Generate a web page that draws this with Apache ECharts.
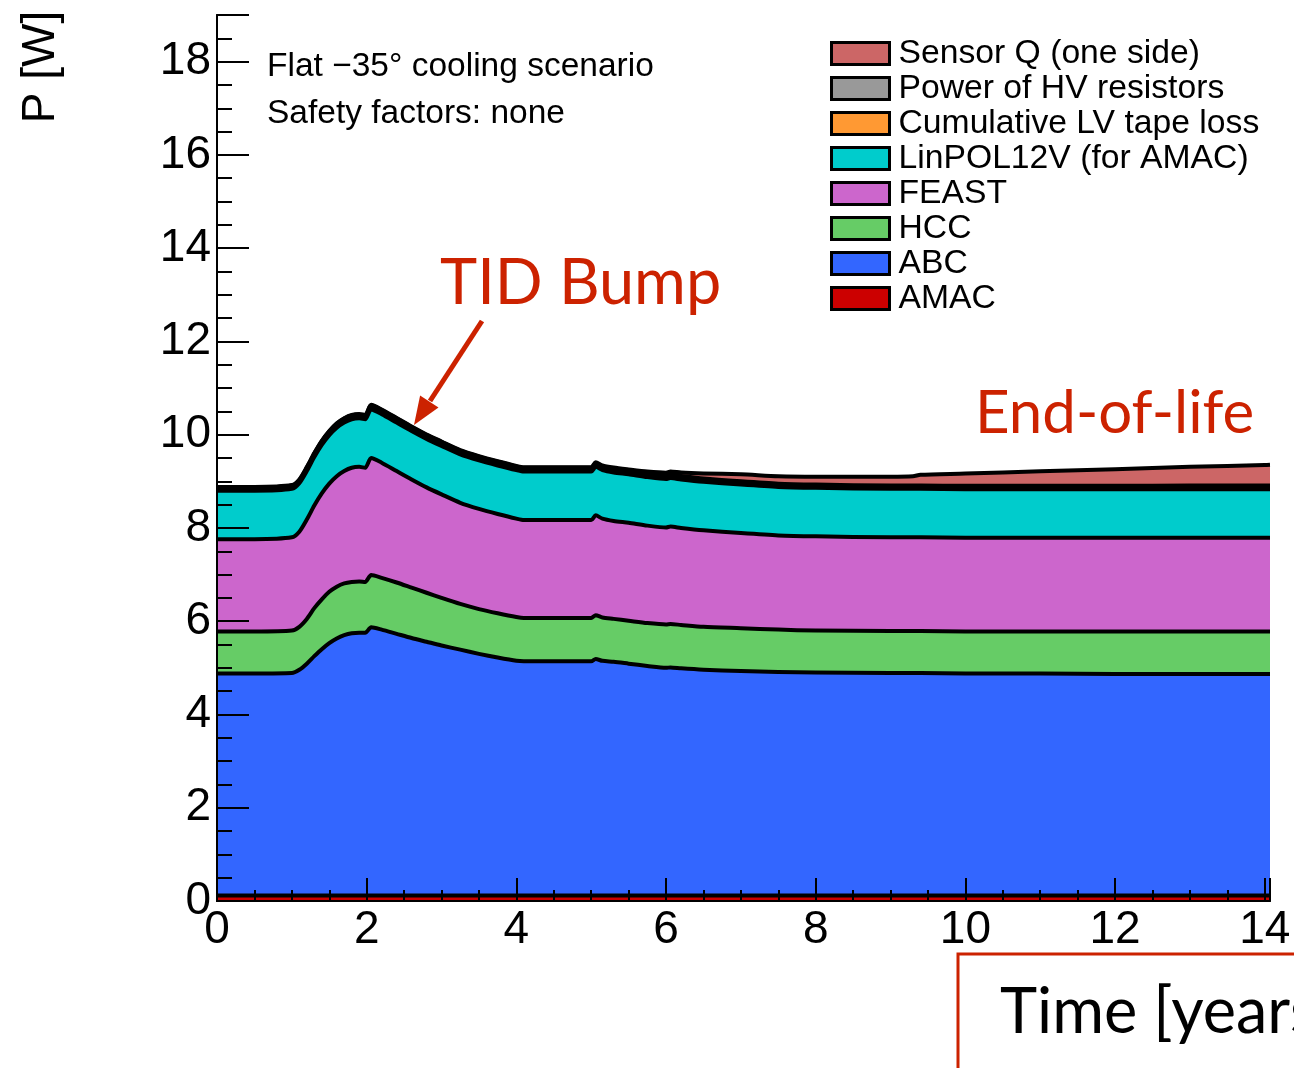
<!DOCTYPE html>
<html>
<head>
<meta charset="utf-8">
<script src="https://cdn.jsdelivr.net/npm/echarts@6/dist/echarts.min.js"></script>
<style>
html,body{margin:0;padding:0;background:#fff;}
#chart{width:1294px;height:1068px;}
</style>
</head>
<body>
<div id="chart"></div>
<script>
// ---- data ----
var times = [0, 0.5, 1.0, 1.1, 1.2, 1.3, 1.4, 1.5, 1.6, 1.7, 1.8, 1.9, 1.98, 2.06, 2.2, 2.4, 2.6, 2.8, 3.0, 3.25, 3.5, 3.75, 4.0, 4.1, 4.5, 5.0, 5.06, 5.15, 5.3, 5.5, 5.75, 6.0, 6.06, 6.2, 6.5, 7.0, 7.5, 8.0, 9.0, 9.3, 9.4, 10, 11, 12, 13, 14, 14.07];
var amac = [0.12,0.12,0.12,0.12,0.12,0.12,0.12,0.12,0.12,0.12,0.12,0.12,0.12,0.12,0.12,0.12,0.12,0.12,0.12,0.12,0.12,0.12,0.12,0.12,0.12,0.12,0.12,0.12,0.12,0.12,0.12,0.12,0.12,0.12,0.12,0.12,0.12,0.12,0.12,0.12,0.12,0.12,0.12,0.12,0.12,0.12,0.12];
var abc = [4.76,4.76,4.77,4.84,4.97,5.13,5.28,5.41,5.51,5.58,5.62,5.63,5.63,5.75,5.70,5.61,5.52,5.44,5.36,5.27,5.18,5.10,5.03,5.02,5.02,5.02,5.07,5.03,5.01,4.97,4.92,4.88,4.89,4.87,4.84,4.81,4.79,4.78,4.77,4.77,4.77,4.76,4.76,4.75,4.75,4.75,4.75];
var hcc = [0.90,0.90,0.91,0.92,0.96,1.03,1.07,1.10,1.11,1.11,1.10,1.10,1.09,1.12,1.11,1.10,1.08,1.05,1.02,0.98,0.96,0.95,0.94,0.93,0.93,0.93,0.94,0.93,0.92,0.92,0.92,0.93,0.93,0.93,0.92,0.92,0.91,0.90,0.90,0.90,0.90,0.90,0.90,0.91,0.91,0.91,0.91];
var feast = [1.98,1.98,2.00,2.04,2.13,2.20,2.27,2.32,2.37,2.41,2.45,2.46,2.45,2.51,2.47,2.39,2.32,2.26,2.22,2.17,2.15,2.13,2.11,2.10,2.10,2.10,2.14,2.12,2.10,2.10,2.09,2.08,2.09,2.08,2.07,2.04,2.02,2.02,2.01,2.01,2.01,2.01,2.01,2.01,2.01,2.01,2.01];
var linpol = [1.04,1.04,1.04,1.04,1.04,1.04,1.04,1.04,1.04,1.04,1.04,1.04,1.04,1.04,1.04,1.04,1.04,1.04,1.04,1.04,1.04,1.04,1.04,1.04,1.04,1.04,1.04,1.04,1.04,1.04,1.04,1.04,1.04,1.04,1.04,1.04,1.04,1.04,1.04,1.04,1.04,1.04,1.04,1.04,1.04,1.04,1.04];
var tapeLoss = [0.03,0.03,0.03,0.03,0.035,0.035,0.04,0.04,0.045,0.045,0.045,0.045,0.045,0.05,0.05,0.05,0.045,0.045,0.045,0.04,0.04,0.04,0.04,0.04,0.04,0.04,0.04,0.04,0.04,0.035,0.035,0.035,0.035,0.035,0.03,0.03,0.03,0.03,0.03,0.03,0.03,0.03,0.03,0.03,0.03,0.03,0.03];
var hvRes = [0.04,0.04,0.04,0.04,0.04,0.04,0.04,0.04,0.04,0.04,0.04,0.04,0.04,0.04,0.04,0.04,0.04,0.04,0.04,0.04,0.04,0.04,0.04,0.04,0.04,0.04,0.04,0.04,0.04,0.04,0.04,0.04,0.04,0.04,0.04,0.04,0.04,0.04,0.04,0.04,0.04,0.045,0.045,0.045,0.05,0.05,0.05];
var sensorQ = [0.01,0.01,0.01,0.01,0.01,0.01,0.01,0.01,0.01,0.01,0.01,0.01,0.01,0.01,0.01,0.01,0.01,0.01,0.01,0.01,0.01,0.01,0.01,0.01,0.01,0.015,0.02,0.02,0.025,0.03,0.045,0.06,0.065,0.075,0.11,0.15,0.16,0.17,0.19,0.20,0.23,0.26,0.31,0.355,0.40,0.44,0.445];

var seriesNames = ['AMAC','ABC','HCC','FEAST','LinPOL12V (for AMAC)','Cumulative LV tape loss','Power of HV resistors','Sensor Q (one side)'];
var seriesValues = [amac, abc, hcc, feast, linpol, tapeLoss, hvRes, sensorQ];
var seriesColors = ['#cc0000','#3366ff','#66cc66','#cc66cc','#00cccc','#ff9933','#999999','#cc6666'];
var xTickLabels = ['0','2','4','6','8','10','12','14'];
var yTickLabels = ['0','2','4','6','8','10','12','14','16','18'];

var FONT = '"Liberation Sans", Arial, Helvetica, sans-serif';
var TEXFONT = 'Lato, "Open Sans", sans-serif';
var RED = '#cc2200';
var SMOOTH = 0.25;

// rows are [value, time] so that the stacked dimension is the value (y) dimension
function rows(arr){ return times.map(function(t,i){ return [arr[i], t]; }); }

var series = [];
seriesValues.forEach(function(vals, i){
  series.push({
    name: seriesNames[i], type: 'line', stack: 'areas', data: rows(vals),
    encode: {x: 1, y: 0}, smooth: SMOOTH,
    symbol: 'none', showSymbol: false, z: 2, silent: true,
    lineStyle: {width: 0, color: seriesColors[i]},
    itemStyle: {color: seriesColors[i]},
    areaStyle: {color: seriesColors[i], opacity: 1},
    emphasis: {disabled: true}
  });
});
seriesValues.forEach(function(vals, i){
  series.push({
    name: '_line' + i, type: 'line', stack: 'lines', data: rows(vals),
    encode: {x: 1, y: 0}, smooth: SMOOTH,
    symbol: 'none', showSymbol: false, z: 3, silent: true,
    lineStyle: {width: 4, color: '#000', join: 'round'},
    emphasis: {disabled: true}
  });
});

var legendData = [];
for (var k = seriesNames.length - 1; k >= 0; k--) {
  legendData.push({name: seriesNames[k], itemStyle: {color: seriesColors[k], borderColor: '#000', borderWidth: 3}});
}

var XMAX = 14.07, YMAX = 19;
var axisCommon = {type: 'value', splitLine: {show: false}, z: 10};

var option = {
  animation: false,
  backgroundColor: '#fff',
  grid: {left: 217, right: 24, top: 15, bottom: 167, containLabel: false, outerBoundsMode: 'none', show: false},
  legend: {
    data: legendData, orient: 'vertical', left: 830, top: 36,
    icon: 'rect', itemWidth: 58, itemHeight: 22, itemGap: 0, selectedMode: false,
    textStyle: {fontSize: 33.7, fontFamily: FONT, color: '#000', lineHeight: 35, padding: [0,0,0,4]},
    padding: 0
  },
  xAxis: [
    Object.assign({}, axisCommon, {
      min: 0, max: XMAX, interval: 2, position: 'bottom',
      axisLine: {show: true, lineStyle: {color: '#000', width: 2}},
      axisTick: {show: true, inside: true, length: 23, lineStyle: {color: '#000', width: 2}},
      axisLabel: {show: true, fontSize: 46, fontFamily: FONT, color: '#000', margin: 6,
        formatter: function(v){ var s = String(v); return xTickLabels.indexOf(s) >= 0 ? s : ''; }}
    }),
    Object.assign({}, axisCommon, {
      min: 0, max: XMAX, interval: 0.5, position: 'bottom',
      axisLine: {show: false}, axisLabel: {show: false},
      axisTick: {show: true, inside: true, length: 11, lineStyle: {color: '#000', width: 2}}
    }),
    Object.assign({}, axisCommon, {
      min: 0, max: XMAX, position: 'top',
      axisLine: {show: true, lineStyle: {color: '#000', width: 2}},
      axisTick: {show: false}, axisLabel: {show: false}
    })
  ],
  yAxis: [
    Object.assign({}, axisCommon, {
      min: 0, max: YMAX, interval: 2, position: 'left',
      axisLine: {show: true, lineStyle: {color: '#000', width: 2}},
      axisTick: {show: true, inside: true, length: 32, lineStyle: {color: '#000', width: 2}},
      axisLabel: {show: true, fontSize: 46, fontFamily: FONT, color: '#000', margin: 6,
        formatter: function(v){ var s = String(v); return yTickLabels.indexOf(s) >= 0 ? s : ''; }}
    }),
    Object.assign({}, axisCommon, {
      min: 0, max: YMAX, interval: 0.5, position: 'left',
      axisLine: {show: false}, axisLabel: {show: false},
      axisTick: {show: true, inside: true, length: 15, lineStyle: {color: '#000', width: 2}}
    }),
    Object.assign({}, axisCommon, {
      min: 0, max: YMAX, position: 'right',
      axisLine: {show: true, lineStyle: {color: '#000', width: 2}},
      axisTick: {show: false}, axisLabel: {show: false}
    })
  ],
  series: series,
  graphic: [
    {type: 'text', x: 267, y: 67, z: 20, silent: true,
      style: {text: 'Flat \u221235\u00b0 cooling scenario', font: '33.5px ' + FONT, fill: '#000', verticalAlign: 'middle'}},
    {type: 'text', x: 267, y: 114, z: 20, silent: true,
      style: {text: 'Safety factors: none', font: '33.5px ' + FONT, fill: '#000', verticalAlign: 'middle'}},
    {type: 'text', x: 440, y: 284, z: 20, silent: true,
      style: {text: 'TID Bump', font: '63px ' + TEXFONT, fill: RED, verticalAlign: 'middle'}},
    {type: 'text', x: 975, y: 414, z: 20, silent: true,
      style: {text: 'End-of-life', font: '60px ' + TEXFONT, fill: RED, verticalAlign: 'middle'}},
    {type: 'line', z: 20, silent: true, shape: {x1: 482, y1: 321, x2: 430, y2: 401},
      style: {stroke: RED, lineWidth: 5}},
    {type: 'polygon', z: 20, silent: true, shape: {points: [[414, 425], [438.5, 407.6], [420.1, 395.6]]},
      style: {fill: RED}},
    {type: 'rect', z: 20, silent: true, shape: {x: 958, y: 954, width: 400, height: 200},
      style: {fill: 'none', stroke: RED, lineWidth: 3}},
    {type: 'text', x: 1000, y: 1013, z: 20, silent: true,
      style: {text: 'Time [years]', font: '63px ' + TEXFONT, fill: '#000', verticalAlign: 'middle'}},
    {type: 'text', x: 41, y: 67, rotation: Math.PI / 2, z: 20, silent: true,
      style: {text: 'P [W]', font: '46px ' + FONT, fill: '#000', align: 'center', verticalAlign: 'middle'}}
  ]
};

var chart = echarts.init(document.getElementById('chart'), null, {renderer: 'canvas'});
chart.setOption(option);
</script>
</body>
</html>
